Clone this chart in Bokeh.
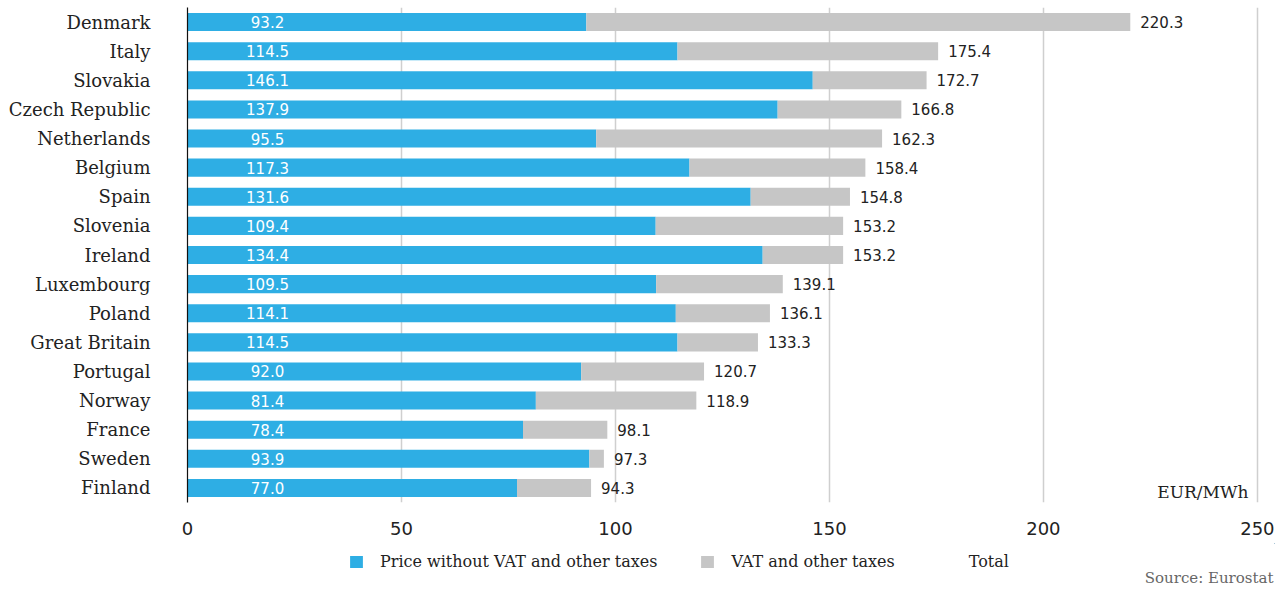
from bokeh.plotting import figure
from bokeh.layouts import column
from bokeh.models import ColumnDataSource, Range1d, FixedTicker, Legend, LegendItem, Label
from bokeh.core.properties import value
from bokeh.embed import file_html
from bokeh.resources import INLINE

# Data (top to bottom as in the chart)
countries = ["Denmark", "Italy", "Slovakia", "Czech Republic", "Netherlands", "Belgium",
             "Spain", "Slovenia", "Ireland", "Luxembourg", "Poland", "Great Britain",
             "Portugal", "Norway", "France", "Sweden", "Finland"]
price = [93.2, 114.5, 146.1, 137.9, 95.5, 117.3, 131.6, 109.4, 134.4, 109.5, 114.1,
         114.5, 92.0, 81.4, 78.4, 93.9, 77.0]
total = [220.3, 175.4, 172.7, 166.8, 162.3, 158.4, 154.8, 153.2, 153.2, 139.1, 136.1,
         133.3, 120.7, 118.9, 98.1, 97.3, 94.3]
x_ticks = [0, 50, 100, 150, 200, 250]
series_names = ["Price without VAT and other taxes", "VAT and other taxes", "Total"]

n = len(countries)
ypos = [n - 1 - i for i in range(n)]
taxes = [round(t - p, 1) for t, p in zip(total, price)]

src = ColumnDataSource(dict(
    y=ypos, price=price, total=total, taxes=taxes,
    price_lbl=[f"{v:.1f}" for v in price],
    total_lbl=[f"{v:.1f}" for v in total],
    lbl_x=[18.7] * n,
))

BLUE = "#2EAEE4"
GRAY = "#C6C6C6"
W = 1275
FRAME_W = 1087          # pixels of the plotting area (0..254 on the x axis)

p = figure(width=W, height=543, output_backend="svg", toolbar_location=None,
           x_range=Range1d(0, 254), y_range=Range1d(-0.5, n - 0.5),
           min_border_left=187, min_border_right=1, min_border_top=7, min_border_bottom=41)
p.outline_line_color = None
p.background_fill_color = "white"

p.hbar(y="y", left=0, right="price", height=0.62, source=src,
       fill_color=BLUE, line_color=None)
p.hbar(y="y", left="price", right="total", height=0.62, source=src,
       fill_color=GRAY, line_color=None)

p.text(x="lbl_x", y="y", text="price_lbl", source=src, text_align="center",
       text_baseline="middle", text_color="white", text_font=value("DejaVu Sans"),
       text_font_size="15px")
p.text(x="total", y="y", text="total_lbl", source=src, x_offset=10, text_align="left",
       text_baseline="middle", text_color="#222222", text_font=value("DejaVu Sans"),
       text_font_size="15px")

# axes
p.xaxis.ticker = FixedTicker(ticks=x_ticks)
p.xaxis.axis_line_color = None
p.xaxis.major_tick_line_color = None
p.xaxis.minor_tick_line_color = None
p.xaxis.major_label_standoff = 13
p.xaxis.major_label_text_font = "DejaVu Sans"
p.xaxis.major_label_text_font_size = "18px"
p.xaxis.major_label_text_color = "#222222"

p.yaxis.ticker = FixedTicker(ticks=ypos)
p.yaxis.major_label_overrides = {y: c for y, c in zip(ypos, countries)}
p.yaxis.axis_line_color = "#111111"
p.yaxis.axis_line_width = 1.2
p.yaxis.major_tick_line_color = None
p.yaxis.minor_tick_line_color = None
p.yaxis.major_label_standoff = 31
p.yaxis.major_label_text_font = "DejaVu Serif"
p.yaxis.major_label_text_font_size = "18px"
p.yaxis.major_label_text_color = "#222222"

p.xgrid.ticker = FixedTicker(ticks=x_ticks[1:])
p.xgrid.grid_line_color = "#CFCFCF"
p.xgrid.grid_line_width = 1.5
p.ygrid.grid_line_color = None

p.add_layout(Label(x=247.9, y=-0.47, text="EUR/MWh", text_align="right",
                   text_baseline="bottom", text_font="DejaVu Serif",
                   text_font_size="17px", text_color="#222222"))

# footer figure holding the legend and the source note
FH = 43
X0 = -3000
Y0 = -1000
f = figure(width=W, height=FH, output_backend="svg", toolbar_location=None,
           x_range=Range1d(X0, X0 + FRAME_W), y_range=Range1d(Y0, Y0 + FH),
           min_border=0, x_axis_type=None, y_axis_type=None)
f.outline_line_color = None
f.grid.visible = False

# legend proxies use the real series (they lie far outside the footer's view)
lr1 = f.hbar(y="y", left=0, right="price", height=0.62, source=src,
             fill_color=BLUE, line_color=None)
lr2 = f.hbar(y="y", left="price", right="total", height=0.62, source=src,
             fill_color=GRAY, line_color=None)
lr3 = f.hbar(y="y", left=0, right="total", height=0.62, source=src,
             fill_alpha=0, line_alpha=0)

legend = Legend(items=[
    LegendItem(label=series_names[0], renderers=[lr1]),
    LegendItem(label=series_names[1], renderers=[lr2]),
    LegendItem(label=series_names[2], renderers=[lr3]),
], orientation="horizontal", location=(161, 15), padding=0, margin=0,
    glyph_width=16, glyph_height=15, label_standoff=16, spacing=42,
    label_text_font="DejaVu Serif", label_text_font_size="16px",
    label_text_color="#222222", border_line_alpha=0, background_fill_alpha=0)
f.add_layout(legend, "center")

f.add_layout(Label(x=X0 + 1086, y=Y0 + 9, text="Source: Eurostat", text_align="right",
                   text_baseline="middle", text_font="DejaVu Serif",
                   text_font_size="15px", text_color="#666666"))

open("out.html", "w").write(file_html(column(p, f, spacing=0), INLINE))
